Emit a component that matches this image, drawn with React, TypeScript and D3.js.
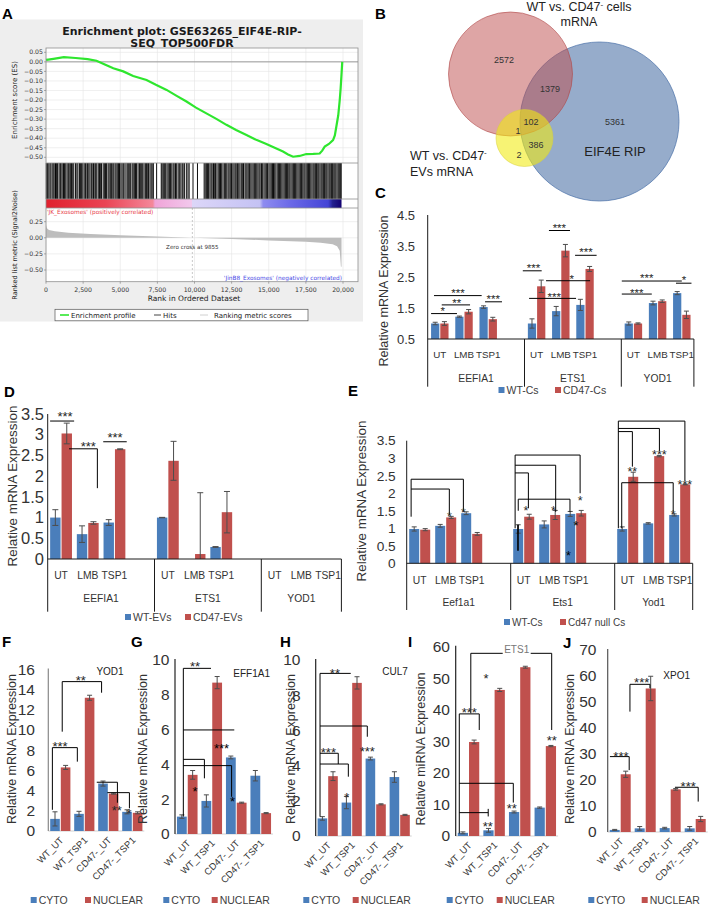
import * as d3 from "d3";
import { useEffect, useRef } from "react";

const SANS = "'Liberation Sans', Arial, sans-serif";
const JAVA = "'DejaVu Sans', sans-serif";
const BLUE = "#4a7ebb";
const RED = "#c0504d";

// ===== Panel A: GSEA enrichment plot =====
const rankTicks = [0, 2500, 5000, 7500, 10000, 12500, 15000, 17500, 20000];
const esTicks = [0.05, 0, -0.05, -0.1, -0.15, -0.2, -0.25, -0.3, -0.35, -0.4, -0.45, -0.5];
const metricTicks = [0.25, 0, -0.25, -0.5];
const esRank = [0, 150, 500, 1200, 2000, 2800, 3400, 4000, 4530, 5200, 5870, 6770, 7400, 8120, 8800, 9460, 10100, 10800, 11500, 12150, 12800, 13500, 14200, 14840, 15400, 15960, 16300, 16640, 17080, 17530, 18000, 18430, 18600, 18770, 19050, 19330, 19450, 19550, 19680, 19780, 19840, 19890, 19950];
const esScore = [0.01, 0.012, 0.016, 0.025, 0.02, 0.014, 0.006, -0.015, -0.034, -0.05, -0.074, -0.095, -0.12, -0.147, -0.178, -0.208, -0.24, -0.27, -0.3, -0.33, -0.357, -0.383, -0.41, -0.43, -0.45, -0.47, -0.485, -0.497, -0.493, -0.483, -0.482, -0.48, -0.465, -0.444, -0.43, -0.41, -0.385, -0.34, -0.28, -0.2, -0.14, -0.078, 0.0];
const hitRanks = [
  20, 90, 150, 260, 330, 420, 520, 600, 640, 700, 780, 880, 960, 1010, 1090, 1180, 1250, 1330, 1420, 1500, 1560, 1640, 1720, 1800, 1870, 1990, 2080, 2150, 2260, 2330, 2400, 2480,
  2570, 2650, 2700, 2790, 2880, 2960, 3050, 3110, 3200, 3290, 3350, 3420, 3520, 3600, 3660, 3740, 3850, 3930, 4010, 4080, 4180, 4250, 4330, 4400, 4460, 4560, 4650, 4720, 4800, 4880, 4950,
  5040, 5120, 5200, 5260, 5380, 5470, 5540, 5610, 5700, 5800, 5870, 5950, 6030, 6100, 6200, 6290, 6350, 6420, 6510, 6600, 6690, 6760, 6820, 6900, 7000, 7080, 7150, 7230, 7450, 7760,
  7820, 7900, 7990, 8060, 8150, 8230, 8310, 8380, 8470, 8560, 8630, 8720, 8800, 8900, 8980, 9080, 9170, 9230, 9320, 9450, 9560, 9640, 9900, 10200,
  10650, 10720, 10800, 10880, 10950, 11040, 11120, 11190, 11280, 11360, 11420, 11510, 11600, 11690, 11750, 11830, 11920, 12010, 12080, 12170, 12260, 12330, 12410,
  12490, 12580, 12660, 12740, 12810, 12900, 12980, 13060, 13150, 13220, 13300, 13400, 13470, 13540, 13620, 13700, 13790, 13870, 13950, 14030, 14100, 14190, 14270, 14350, 14420, 14510, 14590, 14680, 14760, 14840, 14920,
  15010, 15090, 15170, 15250, 15320, 15400, 15480, 15570, 15650, 15720, 15800, 15880, 15960, 16040, 16120, 16200, 16270, 16350, 16420, 16500, 16580, 16660, 16740, 16810, 16890, 16970, 17050, 17130, 17210, 17290, 17370, 17440,
  17520, 17600, 17680, 17750, 17830, 17910, 17990, 18060, 18140, 18220, 18300, 18370, 18450, 18530, 18600, 18680, 18760, 18840, 18910, 18990, 19070, 19140, 19220, 19300, 19380, 19450, 19520, 19600, 19680, 19750, 19820, 19880,
];
const metricRank = [0, 60, 200, 600, 1500, 3000, 5000, 7500, 9855, 12500, 15000, 17500, 18500, 19300, 19600, 19780, 19860, 19900];
const metricValue = [0.2, 0.15, 0.12, 0.1, 0.08, 0.06, 0.04, 0.02, 0, -0.02, -0.04, -0.06, -0.075, -0.1, -0.13, -0.2, -0.45, -0.45];
const zeroCross = 9855;
const gseaLegend = ["Enrichment profile", "Hits", "Ranking metric scores"];

// ===== Panel B: Venn =====
const vennCounts = { cellsOnly: 2572, cellsRip: 1379, ripOnly: 5361, all: 102, cellsEvs: 1, evsRip: 386, evsOnly: 2 };

// ===== Panels C-E: grouped bars =====
const treatments = ["UT", "LMB", "TSP1"];

const cGenes = ["EEFIA1", "ETS1", "YOD1"];
const cTicks = [0.5, 1.5, 2.5, 3.5, 4.5];
const cWT = [1.0, 1.22, 1.53, 1.0, 1.4, 1.6, 1.0, 1.66, 1.98];
const cWTErr = [0.04, 0.02, 0.04, 0.15, 0.15, 0.18, 0.05, 0.06, 0.05];
const cCD = [1.0, 1.38, 1.14, 2.2, 3.35, 2.76, 1.0, 1.72, 1.28];
const cCDErr = [0.06, 0.07, 0.06, 0.2, 0.2, 0.08, 0.02, 0.04, 0.12];
const cSig = [
  [[0.14, 1.32], [1.21, 1.32]], [[0.58, 1.6], [1.75, 1.6]], [[0.26, 1.9], [2.23, 1.9]], [[2.37, 1.7], [3.07, 1.7]],
  [[3.93, 2.7], [4.71, 2.7]], [[5.01, 4.0], [5.88, 4.0]], [[6.09, 3.2], [6.98, 3.2]], [[4.89, 2.38], [6.71, 2.38]], [[4.19, 1.81], [6.13, 1.81]],
  [[8.02, 2.37], [10.5, 2.37]], [[8.02, 1.95], [9.26, 1.95]], [[10.26, 2.3], [10.9, 2.3]],
];
const cStars = [
  [0.62, 1.48, "*"], [1.2, 1.73, "**"], [1.25, 2.08, "***"], [2.71, 1.89, "***"],
  [4.37, 2.89, "***"], [5.44, 4.18, "***"], [6.54, 3.39, "***"], [5.95, 2.53, "*"], [5.23, 1.95, "***"],
  [9.05, 2.54, "***"], [8.64, 2.08, "***"], [10.59, 2.49, "*"],
];

const dGenes = ["EEFIA1", "ETS1", "YOD1"];
const dTicks = [0, 0.5, 1, 1.5, 2, 2.5, 3, 3.5];
const dWT = [1.0, 0.6, 0.88, 1.0, 0, 0.29, 0, 0, 0];
const dWTErr = [0.19, 0.2, 0.07, 0.005, 0, 0.01, 0, 0, 0];
const dCD = [3.03, 0.87, 2.65, 2.37, 0.12, 1.13, 0, 0, 0];
const dCDErr = [0.25, 0.03, 0.01, 0.47, 1.48, 0.5, 0, 0, 0];
const dSig = [[[0.09, 3.33], [0.99, 3.33]], [[0.8, 2.66], [1.86, 2.66], [1.86, 1.71]], [[2.08, 2.83], [2.96, 2.83]]];
const dStars = [[0.65, 3.51, "***"], [1.52, 2.79, "***"], [2.52, 3.0, "***"]];

const eGenes = ["Eef1a1", "Ets1", "Yod1"];
const eTicks = [0, 0.5, 1, 1.5, 2, 2.5, 3, 3.5];
const eWT = [0.98, 1.07, 1.43, 0.98, 1.11, 1.41, 0.98, 1.14, 1.38];
const eWTErr = [0.06, 0.04, 0.04, 0.12, 0.1, 0.07, 0.06, 0.02, 0.03];
const eCD = [0.96, 1.31, 0.84, 1.33, 1.38, 1.43, 2.47, 3.06, 2.25];
const eCDErr = [0.03, 0.03, 0.04, 0.07, 0.13, 0.08, 0.13, 0.02, 0.01];
const eSig = [
  [[0.17, 1.33], [0.17, 2.4], [2.18, 2.4], [2.18, 1.47]],
  [[0.17, 2.12], [1.64, 2.12], [1.64, 1.38]],
  [[4.17, 1.0], [4.17, 3.09], [6.67, 3.09], [6.67, 2.0]],
  [[4.17, 2.8], [5.73, 2.8], [5.73, 1.47]],
  [[4.17, 2.58], [4.68, 2.58], [4.68, 1.57]],
  [[4.29, 1.5], [4.29, 1.83], [6.28, 1.83], [6.28, 1.47]],
  [[8.14, 1.0], [8.14, 4.06], [10.7, 4.06], [10.7, 2.36]],
  [[8.14, 3.85], [9.72, 3.85], [9.72, 3.2]],
  [[8.14, 3.76], [8.68, 3.76], [8.68, 2.76]],
  [[8.27, 1.0], [8.27, 2.3], [10.25, 2.3], [10.25, 1.47]],
];
const eThick = [[[4.28, 1.1], [4.28, 0.36]]];
const eStars = [
  [1.64, 1.42, "*"], [2.18, 1.54, "*"],
  [4.59, 1.57, "*"], [5.64, 1.57, "*"], [6.67, 1.87, "*"], [6.51, 1.17, "*", "#000"], [6.22, 0.31, "*", "#000"],
  [8.68, 2.69, "**"], [9.72, 3.19, "***"], [10.7, 2.33, "***"], [10.25, 1.46, "*"],
];

// ===== Panels F-J: cyto / nuclear fractions =====
const fracCats = ["WT_UT", "WT_TSP1", "CD47-_UT", "CD47-_TSP1"];

const fTicks = [0, 2, 4, 6, 8, 10, 12, 14, 16];
const fCyto = [1.2, 1.7, 4.7, 1.9];
const fCytoErr = [0.7, 0.25, 0.25, 0.2];
const fNuc = [6.3, 13.2, 3.7, 1.8];
const fNucErr = [0.2, 0.25, 0.05, 0.1];
const fSig = [
  [[0.17, 2.1], [0.17, 8.26], [1.21, 8.26], [1.21, 6.87]],
  [[0.58, 9.84], [0.58, 14.8], [2.22, 14.8], [2.22, 13.7]],
  [[2.02, 4.83], [2.88, 4.83], [2.88, 2.8]],
  [[2.46, 3.8], [3.38, 3.8], [3.38, 2.25]],
];
const fStars = [[0.49, 8.7, "***"], [1.35, 15.2, "**"], [2.85, 2.35, "**"], [3.36, 2.05, "*"]];

const gTicks = [0, 2, 4, 6, 8, 10];
const gCyto = [1.0, 1.9, 4.4, 3.35];
const gCytoErr = [0.1, 0.35, 0.08, 0.3];
const gNuc = [3.4, 8.7, 1.8, 1.2];
const gNucErr = [0.25, 0.35, 0.03, 0.03];
const gSig = [
  [[0.34, 1.0], [0.34, 9.52], [1.47, 9.52]],
  [[0.34, 5.98], [2.42, 5.98]],
  [[0.34, 4.29], [1.2, 4.29], [1.2, 3.2]],
  [[0.34, 3.93], [2.31, 3.93], [2.31, 2.14]],
];
const gStars = [[0.82, 9.81, "**"], [0.82, 2.63, "*", "#000"], [2.35, 2.05, "*", "#000"], [1.9, 5.06, "***", "#000"]];

const hTicks = [0, 2, 4, 6, 8, 10];
const hCyto = [1.0, 1.9, 4.4, 3.35];
const hCytoErr = [0.1, 0.35, 0.08, 0.3];
const hNuc = [3.4, 8.7, 1.8, 1.2];
const hNucErr = [0.25, 0.35, 0.03, 0.03];
const hSig = [
  [[0.18, 1.1], [0.18, 9.24], [1.46, 9.24]],
  [[0.18, 6.25], [2.15, 6.25], [2.15, 5.64]],
  [[0.18, 4.7], [0.94, 4.7], [0.94, 4.09]],
  [[0.18, 4.09], [1.36, 4.09], [1.36, 3.37]],
];
const hStars = [[0.8, 9.43, "**"], [2.15, 4.98, "***"], [0.53, 4.89, "***"], [1.29, 2.33, "*"]];

const iTicks = [0, 10, 20, 30, 40, 50, 60];
const iCyto = [1.0, 1.8, 7.6, 9.0];
const iCytoErr = [0.3, 0.6, 0.3, 0.2];
const iNuc = [29.8, 46.3, 53.5, 28.5];
const iNucErr = [0.6, 0.5, 0.3, 0.2];
const iSig = [
  [[0.59, 38.9], [0.59, 57.9], [3.75, 57.9], [3.75, 33.6]],
  [[0.14, 0.8], [0.14, 38.7], [0.92, 38.7], [0.92, 33.6]],
  [[0.14, 16.7], [2.25, 16.7], [2.25, 10.6]],
  [[0.14, 7.4], [1.27, 7.4]],
  [[1.27, 6.2], [1.27, 8.6]],
];
const iStars = [[1.18, 51, "*"], [0.53, 40.2, "***"], [2.19, 9.8, "**"], [1.25, 4.0, "**"], [3.75, 31.3, "**"]];

const jTicks = [0, 10, 20, 30, 40, 50, 60, 70];
const jCyto = [0.8, 1.4, 1.5, 1.4];
const jCytoErr = [0.2, 0.7, 0.3, 0.7];
const jNuc = [22.2, 55.2, 16.4, 5.0];
const jNucErr = [1.2, 4.7, 0.3, 1.0];
const jSig = [
  [[0.09, 29.0], [0.86, 29.0], [0.86, 23.8]],
  [[0.89, 46.3], [0.89, 56.8], [1.69, 56.8], [1.69, 55.3]],
  [[2.69, 17.2], [3.62, 17.2], [3.62, 11.7]],
];
const jStars = [[0.53, 30.3, "***"], [1.36, 58.7, "***"], [3.22, 18.7, "***"]];

// ---------- helpers ----------
function letter(g: any, t: string, x: number, y: number) {
  g.append("text").attr("x", x).attr("y", y).attr("font-family", SANS)
    .attr("font-weight", "bold").attr("font-size", 15).attr("fill", "#000").text(t);
}

function drawBrackets(g: any, xs: any, y: any, list: number[][][], w = 1) {
  const line = d3.line<number[]>().x((d) => xs(d[0])).y((d) => y(d[1]));
  list.forEach((p) => {
    g.append("path").attr("d", line(p)).attr("fill", "none")
      .attr("stroke", "#000").attr("stroke-width", w);
  });
}

function drawStars(g: any, xs: any, y: any, list: any[], size: number) {
  list.forEach(([s, v, t, col]) => {
    g.append("text").attr("x", xs(s)).attr("y", y(v) + 0.575 * size)
      .attr("text-anchor", "middle").attr("font-size", size)
      .attr("fill", col || "#262626").text(t);
  });
}

function errorBar(g: any, cx: number, y: any, v: number, e: number, cap: number, floor: number) {
  if (!e) return;
  const lo = Math.max(v - e, floor);
  const hi = v + e;
  const eg = g.append("g").attr("stroke", "#4d4d4d").attr("stroke-width", 1);
  eg.append("line").attr("x1", cx).attr("x2", cx).attr("y1", y(lo)).attr("y2", y(hi));
  eg.append("line").attr("x1", cx - cap / 2).attr("x2", cx + cap / 2).attr("y1", y(hi)).attr("y2", y(hi));
  if (v - e >= floor)
    eg.append("line").attr("x1", cx - cap / 2).attr("x2", cx + cap / 2).attr("y1", y(lo)).attr("y2", y(lo));
}

function legendRow(g: any, labels: string[], xs: number[], yc: number, size: number) {
  [BLUE, RED].forEach((c, i) => {
    g.append("rect").attr("x", xs[i]).attr("y", yc - 3).attr("width", 6).attr("height", 6).attr("fill", c);
    g.append("text").attr("x", xs[i] + 8).attr("y", yc).attr("dy", "0.35em")
      .attr("font-size", size).attr("fill", "#404040").text(labels[i]);
  });
}

// ---------- Panel A ----------
function drawGsea(svg: any) {
  const g = svg.append("g").attr("font-family", JAVA);
  g.append("rect").attr("x", 0).attr("y", 19.5).attr("width", 363).attr("height", 302).attr("fill", "#eeeeee");
  letter(g, "A", 2, 18.5);

  const title = g.append("text").attr("text-anchor", "middle").attr("font-weight", "bold")
    .attr("font-size", 11).attr("fill", "#1a1a1a");
  title.append("tspan").attr("x", 182).attr("y", 35).text("Enrichment plot: GSE63265_EIF4E-RIP-");
  title.append("tspan").attr("x", 182).attr("y", 46.5).text("SEQ_TOP500FDR");

  const L = 46, R = 358, esTop = 48, esBot = 163, barTop = 199, barBot = 208, mBot = 281.7;
  const x = d3.scaleLinear().domain([0, 20000]).range([46, 343]);
  const yEs = d3.scaleLinear().domain([-0.5, 0.05]).range([157.3, 52.3]);
  const yM = d3.scaleLinear().domain([-0.5, 0.25]).range([270, 221.7]);

  g.append("rect").attr("x", L).attr("y", esTop).attr("width", R - L).attr("height", mBot - esTop).attr("fill", "#fff");

  // grid
  const grid = g.append("g").attr("stroke", "#e4e4e4").attr("stroke-width", 0.6);
  rankTicks.forEach((r) => {
    grid.append("line").attr("x1", x(r)).attr("x2", x(r)).attr("y1", esTop).attr("y2", esBot);
    grid.append("line").attr("x1", x(r)).attr("x2", x(r)).attr("y1", barBot).attr("y2", mBot);
  });
  esTicks.forEach((v) => grid.append("line").attr("x1", L).attr("x2", R).attr("y1", yEs(v)).attr("y2", yEs(v)));
  metricTicks.forEach((v) => grid.append("line").attr("x1", L).attr("x2", R).attr("y1", yM(v)).attr("y2", yM(v)));
  g.append("line").attr("x1", L).attr("x2", R).attr("y1", yEs(0)).attr("y2", yEs(0)).attr("stroke", "#9a9a9a");

  // ES curve
  const esLine = d3.line<number>().x((_, i) => x(esRank[i])).y((d) => yEs(d));
  g.append("path").attr("d", esLine(esScore)).attr("fill", "none").attr("stroke", "#2ee62e").attr("stroke-width", 2.2);

  // hits
  const hits = g.append("g").attr("stroke", "#000").attr("stroke-width", 0.95);
  hitRanks.forEach((r) => hits.append("line").attr("x1", x(r)).attr("x2", x(r)).attr("y1", esBot).attr("y2", barTop));

  // colour bar
  const defs = svg.append("defs");
  const grad = defs.append("linearGradient").attr("id", "gseaBar").attr("gradientUnits", "userSpaceOnUse")
    .attr("x1", x(0)).attr("x2", x(20000)).attr("y1", 0).attr("y2", 0);
  [
    [0, "#e0202e"], [0.2, "#ea4454"], [0.36, "#f4889a"], [0.367, "#f0a4d8"], [0.49, "#f2c8ec"],
    [0.493, "#dcd6f8"], [0.72, "#c4c2f4"], [0.731, "#8e8cf0"], [0.82, "#6c6ae8"], [0.95, "#4444d6"],
    [0.965, "#22208e"], [0.995, "#120070"],
  ].forEach(([o, c]) => grad.append("stop").attr("offset", o).attr("stop-color", c));
  g.append("rect").attr("x", x(0)).attr("y", barTop).attr("width", x(19900) - x(0)).attr("height", barBot - barTop).attr("fill", "url(#gseaBar)");

  // ranked metric
  const area = d3.area<number>().x((_, i) => x(metricRank[i])).y0(yM(0)).y1((d) => yM(d));
  g.append("path").attr("d", area(metricValue)).attr("fill", "#bdbdbd");
  g.append("line").attr("x1", x(zeroCross)).attr("x2", x(zeroCross)).attr("y1", barBot).attr("y2", mBot)
    .attr("stroke", "#c8c8c8").attr("stroke-dasharray", "2,2");

  // frames
  const fr = g.append("g").attr("fill", "none").attr("stroke", "#8f8f8f").attr("stroke-width", 0.8);
  fr.append("rect").attr("x", L).attr("y", esTop).attr("width", R - L).attr("height", mBot - esTop);
  [esBot, barTop, barBot].forEach((yy) => fr.append("line").attr("x1", L).attr("x2", R).attr("y1", yy).attr("y2", yy));

  // annotations
  g.append("text").attr("x", 47).attr("y", 214).attr("font-size", 5.8).attr("fill", "#e8404a")
    .text("'JK_Exosomes' (positively correlated)");
  g.append("text").attr("x", 342).attr("y", 279.5).attr("text-anchor", "end").attr("font-size", 5.8).attr("fill", "#4b4be6")
    .text("'JinB8_Exosomes' (negatively correlated)");
  g.append("text").attr("x", x(zeroCross)).attr("y", 249.3).attr("text-anchor", "middle").attr("font-size", 5.6).attr("fill", "#333")
    .text(`Zero cross at ${zeroCross}`);

  // axes
  const tk = g.append("g").attr("font-size", 6.2).attr("fill", "#333");
  esTicks.forEach((v) => {
    tk.append("text").attr("x", 43).attr("y", yEs(v)).attr("dy", "0.35em").attr("text-anchor", "end").text(d3.format(".2f")(v));
    g.append("line").attr("x1", 44).attr("x2", L).attr("y1", yEs(v)).attr("y2", yEs(v)).attr("stroke", "#777").attr("stroke-width", 0.6);
  });
  metricTicks.forEach((v) => {
    tk.append("text").attr("x", 43).attr("y", yM(v)).attr("dy", "0.35em").attr("text-anchor", "end").text(d3.format(".2f")(v));
    g.append("line").attr("x1", 44).attr("x2", L).attr("y1", yM(v)).attr("y2", yM(v)).attr("stroke", "#777").attr("stroke-width", 0.6);
  });
  rankTicks.forEach((r) => {
    tk.append("text").attr("x", x(r)).attr("y", 292).attr("text-anchor", "middle").text(d3.format(",")(r));
    g.append("line").attr("x1", x(r)).attr("x2", x(r)).attr("y1", mBot).attr("y2", mBot + 2).attr("stroke", "#777").attr("stroke-width", 0.6);
  });
  g.append("text").attr("x", 194).attr("y", 300.5).attr("text-anchor", "middle").attr("font-size", 7.5).attr("fill", "#222")
    .text("Rank in Ordered Dataset");
  g.append("text").attr("transform", "translate(15,100) rotate(-90)").attr("dy", "0.35em").attr("text-anchor", "middle")
    .attr("font-size", 7).attr("fill", "#222").text("Enrichment score (ES)");
  g.append("text").attr("transform", "translate(15,245) rotate(-90)").attr("dy", "0.35em").attr("text-anchor", "middle")
    .attr("font-size", 6.6).attr("fill", "#222").text("Ranked list metric (Signal2Noise)");

  // legend
  const lg = g.append("g").attr("font-size", 7).attr("fill", "#222");
  lg.append("rect").attr("x", 55).attr("y", 309.3).attr("width", 253).attr("height", 11.5).attr("fill", "#fff").attr("stroke", "#555").attr("stroke-width", 0.7);
  lg.append("line").attr("x1", 60).attr("x2", 69).attr("y1", 315).attr("y2", 315).attr("stroke", "#2ee62e").attr("stroke-width", 1.6);
  lg.append("text").attr("x", 71).attr("y", 317.5).text(gseaLegend[0]);
  lg.append("line").attr("x1", 154).attr("x2", 161).attr("y1", 315).attr("y2", 315).attr("stroke", "#444").attr("stroke-width", 1);
  lg.append("text").attr("x", 163).attr("y", 317.5).text(gseaLegend[1]);
  lg.append("line").attr("x1", 200).attr("x2", 208).attr("y1", 315).attr("y2", 315).attr("stroke", "#d0d0d0").attr("stroke-width", 1);
  lg.append("text").attr("x", 214).attr("y", 317.5).text(gseaLegend[2]);
}

// ---------- Panel B ----------
function drawVenn(svg: any) {
  const g = svg.append("g").attr("font-family", SANS);
  letter(g, "B", 375, 18.5);
  g.append("circle").attr("cx", 599.5).attr("cy", 121.5).attr("r", 79.5)
    .attr("fill", "#4068a0").attr("fill-opacity", 0.55).attr("stroke", "#4a70a8").attr("stroke-opacity", 0.7);
  g.append("circle").attr("cx", 510.5).attr("cy", 74).attr("r", 62)
    .attr("fill", "#bd4b4b").attr("fill-opacity", 0.5).attr("stroke", "#b04848").attr("stroke-opacity", 0.6);
  g.append("circle").attr("cx", 524.5).attr("cy", 138).attr("r", 28.5)
    .attr("fill", "#f2ea10").attr("fill-opacity", 0.58).attr("stroke", "#d8d040").attr("stroke-opacity", 0.5);

  const num = (t: number, x: number, y: number) =>
    g.append("text").attr("x", x).attr("y", y).attr("dy", "0.35em").attr("text-anchor", "middle")
      .attr("font-size", 9).attr("fill", "#333").text(t);
  num(vennCounts.cellsOnly, 504, 60);
  num(vennCounts.cellsRip, 550, 89);
  num(vennCounts.ripOnly, 615, 122);
  num(vennCounts.all, 531, 122);
  num(vennCounts.cellsEvs, 518, 131);
  num(vennCounts.evsRip, 536, 145);
  num(vennCounts.evsOnly, 519, 155);

  g.append("text").attr("x", 615).attr("y", 156).attr("text-anchor", "middle").attr("font-size", 13).attr("fill", "#222").text("EIF4E RIP");

  const t1 = g.append("text").attr("x", 579).attr("y", 10.5).attr("text-anchor", "middle").attr("font-size", 12.5).attr("fill", "#222");
  t1.append("tspan").text("WT vs. CD47");
  t1.append("tspan").attr("dy", -4).attr("font-size", 8).text("-");
  t1.append("tspan").attr("dy", 4).text(" cells");
  g.append("text").attr("x", 579).attr("y", 26).attr("text-anchor", "middle").attr("font-size", 12.5).attr("fill", "#222").text("mRNA");

  const t2 = g.append("text").attr("x", 410).attr("y", 159.5).attr("font-size", 12.5).attr("fill", "#222");
  t2.append("tspan").text("WT vs. CD47");
  t2.append("tspan").attr("dy", -4.5).attr("font-size", 8).text("-");
  g.append("text").attr("x", 410).attr("y", 175.5).attr("font-size", 12.5).attr("fill", "#222").text("EVs mRNA");
}

// ---------- Panels C-E ----------
function drawGrouped(svg: any, c: any) {
  const g = svg.append("g").attr("font-family", SANS);
  letter(g, c.letter, c.letterX, c.letterY);
  const nSlots = c.genes.length * 4 - 1;
  const xs = d3.scaleLinear().domain([0, nSlots]).range([c.left, c.left + nSlots * c.slotW]);
  const y = d3.scaleLinear().domain(c.domain).range([c.basePx, c.topPx]);
  const y0 = c.domain[0];
  const bw = c.slotW * c.barFrac;

  const bars: any[] = [];
  c.genes.forEach((_: string, gi: number) =>
    treatments.forEach((_t, ti) => {
      const k = gi * 3 + ti;
      const cx = xs(gi * 4 + ti + 0.5);
      bars.push({ x: cx - 0.5 - bw, v: c.wt[k], e: c.wtErr[k], fill: BLUE });
      bars.push({ x: cx + 0.5, v: c.cd[k], e: c.cdErr[k], fill: RED });
    }),
  );
  g.selectAll(null).data(bars).enter().append("rect")
    .attr("x", (d: any) => d.x).attr("y", (d: any) => y(Math.max(d.v, y0)))
    .attr("width", bw).attr("height", (d: any) => y(y0) - y(Math.max(d.v, y0)))
    .attr("fill", (d: any) => d.fill);
  bars.forEach((d) => d.v > 0 && errorBar(g, d.x + bw / 2, y, d.v, d.e, c.cap, y0));

  // axes
  const ax = g.append("g").attr("stroke", "#1a1a1a").attr("stroke-width", 1);
  ax.append("line").attr("x1", c.left).attr("x2", c.left).attr("y1", y(c.domain[1])).attr("y2", c.axisBottom);
  ax.append("line").attr("x1", c.left).attr("x2", xs(nSlots)).attr("y1", y(y0)).attr("y2", y(y0));
  [4, 8, nSlots].forEach((s) =>
    ax.append("line").attr("x1", xs(s)).attr("x2", xs(s)).attr("y1", y(y0)).attr("y2", c.axisBottom));

  c.ticks.forEach((v: number) =>
    g.append("text").attr("x", c.tickRight).attr("y", y(v)).attr("dy", "0.35em").attr("text-anchor", "end")
      .attr("font-size", c.tickSize).attr("fill", "#333").text(String(v)));

  c.genes.forEach((gene: string, gi: number) => {
    treatments.forEach((t, ti) =>
      g.append("text").attr("x", xs(gi * 4 + ti + 0.5)).attr("y", y(y0) + c.catDy).attr("dy", "0.35em")
        .attr("text-anchor", "middle").attr("font-size", c.catSize).attr("fill", "#333").text(t));
    const mid = gi < c.genes.length - 1 ? gi * 4 + 2 : gi * 4 + 1.5;
    g.append("text").attr("x", xs(mid)).attr("y", y(y0) + c.groupDy).attr("dy", "0.35em")
      .attr("text-anchor", "middle").attr("font-size", 10.3).attr("fill", "#333").text(gene);
  });

  g.append("text").attr("transform", `translate(${c.ylabelX},${c.ylabelY}) rotate(-90)`).attr("dy", "0.35em")
    .attr("text-anchor", "middle").attr("font-size", c.ylabelSize).attr("fill", "#333").text("Relative mRNA Expression");

  drawBrackets(g, xs, y, c.sig, 1);
  if (c.thick) drawBrackets(g, xs, y, c.thick, 1.6);
  drawStars(g, xs, y, c.stars, c.starSize);
  legendRow(g, c.legend, c.legendX, c.legendY, c.legendSize);
}

// ---------- Panels F-J ----------
function drawFrac(svg: any, c: any) {
  const g = svg.append("g").attr("font-family", SANS);
  letter(g, c.letter, c.letterX, c.letterY);
  const xs = d3.scaleLinear().domain([0, fracCats.length]).range([c.left, c.left + fracCats.length * c.slotW]);
  const y = d3.scaleLinear().domain([0, c.ticks[c.ticks.length - 1]]).range([c.basePx, c.topPx]);
  const bw = c.slotW * 0.4;

  g.append("line").attr("x1", c.left).attr("x2", xs(fracCats.length)).attr("y1", y(0)).attr("y2", y(0))
    .attr("stroke", "#d0d0d0");

  fracCats.forEach((cat, i) => {
    const cx = xs(i + 0.5);
    [[c.cyto, c.cytoErr, BLUE, cx - 0.5 - bw], [c.nuc, c.nucErr, RED, cx + 0.5]].forEach(([vals, errs, col, bx]: any) => {
      g.append("rect").attr("x", bx).attr("y", y(vals[i])).attr("width", bw).attr("height", y(0) - y(vals[i])).attr("fill", col);
      errorBar(g, bx + bw / 2, y, vals[i], errs[i], 5, 0);
    });
    g.append("text").attr("transform", `translate(${cx - 1},${y(0) + 5}) rotate(-45)`).attr("dy", "0.72em")
      .attr("text-anchor", "end").attr("font-size", 9.5).attr("fill", "#333").text(cat);
  });

  g.append("line").attr("x1", c.left).attr("x2", c.left).attr("y1", y(c.ticks[c.ticks.length - 1]) - 1).attr("y2", y(0))
    .attr("stroke", c.axisColor).attr("stroke-width", 1.2);
  c.ticks.forEach((v: number) =>
    g.append("text").attr("x", c.tickRight).attr("y", y(v)).attr("dy", "0.35em").attr("text-anchor", "end")
      .attr("font-size", 15.5).attr("fill", "#333").text(String(v)));

  g.append("text").attr("transform", `translate(${c.ylabelX},749) rotate(-90)`).attr("dy", "0.35em")
    .attr("text-anchor", "middle").attr("font-size", 12.5).attr("fill", "#333").text(c.ylabel);

  drawBrackets(g, xs, y, c.sig, 1);
  if (c.titleBg) {
    g.append("rect").attr("x", c.titleX - 14).attr("y", c.titleY - 6).attr("width", 28).attr("height", 11).attr("fill", "#fff");
  }
  g.append("text").attr("x", c.titleX).attr("y", c.titleY).attr("dy", "0.36em").attr("text-anchor", "middle")
    .attr("font-size", 10).attr("fill", c.titleColor || "#222").text(c.title);
  drawStars(g, xs, y, c.stars, 13);
  legendRow(g, ["CYTO", "NUCLEAR"], c.legendX, 900, 10.5);
}

export default function App() {
  const ref = useRef<SVGSVGElement | null>(null);

  useEffect(() => {
    const svg = d3.select(ref.current);
    svg.selectAll("*").remove();

    drawGsea(svg);
    drawVenn(svg);

    drawGrouped(svg, {
      letter: "C", letterX: 375, letterY: 197.5,
      left: 427.7, slotW: 24.2, barFrac: 0.34, domain: [0.5, 4.5], basePx: 339, topPx: 215,
      ticks: cTicks, tickRight: 415, tickSize: 13, axisBottom: 386.7, catDy: 16, groupDy: 39, catSize: 9.8,
      genes: cGenes, wt: cWT, wtErr: cWTErr, cd: cCD, cdErr: cCDErr, cap: 5,
      sig: cSig, stars: cStars, starSize: 11.5,
      ylabelX: 384, ylabelY: 291, ylabelSize: 12.6,
      legend: ["WT-Cs", "CD47-Cs"], legendX: [498.5, 555], legendY: 390, legendSize: 10.5,
    });

    drawGrouped(svg, {
      letter: "D", letterX: 4, letterY: 397,
      left: 47.7, slotW: 26.7, barFrac: 0.39, domain: [0, 3.5], basePx: 559, topPx: 414,
      ticks: dTicks, tickRight: 44, tickSize: 16.5, axisBottom: 611.7, catDy: 16, groupDy: 39, catSize: 10.3,
      genes: dGenes, wt: dWT, wtErr: dWTErr, cd: dCD, cdErr: dCDErr, cap: 6,
      sig: dSig, stars: dStars, starSize: 13,
      ylabelX: 12, ylabelY: 486, ylabelSize: 13.4,
      legend: ["WT-EVs", "CD47-EVs"], legendX: [125, 185], legendY: 617, legendSize: 10.5,
    });

    drawGrouped(svg, {
      letter: "E", letterX: 348, letterY: 396,
      left: 406.7, slotW: 26, barFrac: 0.385, domain: [0, 3.5], basePx: 563.3, topPx: 440.7,
      ticks: eTicks, tickRight: 395.7, tickSize: 13.7, axisBottom: 610, catDy: 16.7, groupDy: 39, catSize: 10.3,
      genes: eGenes, wt: eWT, wtErr: eWTErr, cd: eCD, cdErr: eCDErr, cap: 5,
      sig: eSig, thick: eThick, stars: eStars, starSize: 12.5,
      ylabelX: 361, ylabelY: 501, ylabelSize: 13.4,
      legend: ["WT-Cs", "Cd47 null Cs"], legendX: [504, 560], legendY: 622, legendSize: 10,
    });

    drawFrac(svg, {
      letter: "F", letterX: 2, letterY: 647, left: 48.3, slotW: 24, basePx: 831, topPx: 669.5,
      ticks: fTicks, tickRight: 35, cyto: fCyto, cytoErr: fCytoErr, nuc: fNuc, nucErr: fNucErr,
      sig: fSig, stars: fStars, title: "YOD1", titleX: 110, titleY: 671.7,
      ylabel: "Relative mRNA Expression", ylabelX: 11.7, legendX: [30.7, 85], axisColor: "#888",
    });
    drawFrac(svg, {
      letter: "G", letterX: 131, letterY: 647, left: 175, slotW: 24.5, basePx: 834, topPx: 660,
      ticks: gTicks, tickRight: 169.5, cyto: gCyto, cytoErr: gCytoErr, nuc: gNuc, nucErr: gNucErr,
      sig: gSig, stars: gStars, title: "EFF1A1", titleX: 251.7, titleY: 673.3,
      ylabel: "Relative mRNA Expression", ylabelX: 143, legendX: [163.3, 211.7], axisColor: "#222",
    });
    drawFrac(svg, {
      letter: "H", letterX: 280, letterY: 647, left: 315.7, slotW: 24, basePx: 836, topPx: 660,
      ticks: hTicks, tickRight: 300.5, cyto: hCyto, cytoErr: hCytoErr, nuc: hNuc, nucErr: hNucErr,
      sig: hSig, stars: hStars, title: "CUL7", titleX: 395, titleY: 671.7,
      ylabel: "Relative mRNA Expression", ylabelX: 291, legendX: [303.3, 352.7], axisColor: "#222",
    });
    drawFrac(svg, {
      letter: "I", letterX: 408, letterY: 647, left: 455.7, slotW: 25.6, basePx: 836, topPx: 646.7,
      ticks: iTicks, tickRight: 450, cyto: iCyto, cytoErr: iCytoErr, nuc: iNuc, nucErr: iNucErr,
      sig: iSig, stars: iStars, title: "ETS1", titleX: 516.7, titleY: 649, titleColor: "#777", titleBg: true,
      ylabel: "Relative miRNA Expression", ylabelX: 421, legendX: [446.7, 496.7], axisColor: "#222",
    });
    drawFrac(svg, {
      letter: "J", letterX: 563, letterY: 648, left: 607.7, slotW: 25, basePx: 832, topPx: 650,
      ticks: jTicks, tickRight: 596.5, cyto: jCyto, cytoErr: jCytoErr, nuc: jNuc, nucErr: jNucErr,
      sig: jSig, stars: jStars, title: "XPO1", titleX: 676.7, titleY: 675,
      ylabel: "Relative mRNA Expression", ylabelX: 570, legendX: [588.3, 641.7], axisColor: "#555",
    });
  }, []);

  return (
    <svg
      ref={ref}
      width={708}
      height={907}
      style={{ position: "absolute", left: 0, top: 0, background: "#fff" }}
    />
  );
}
